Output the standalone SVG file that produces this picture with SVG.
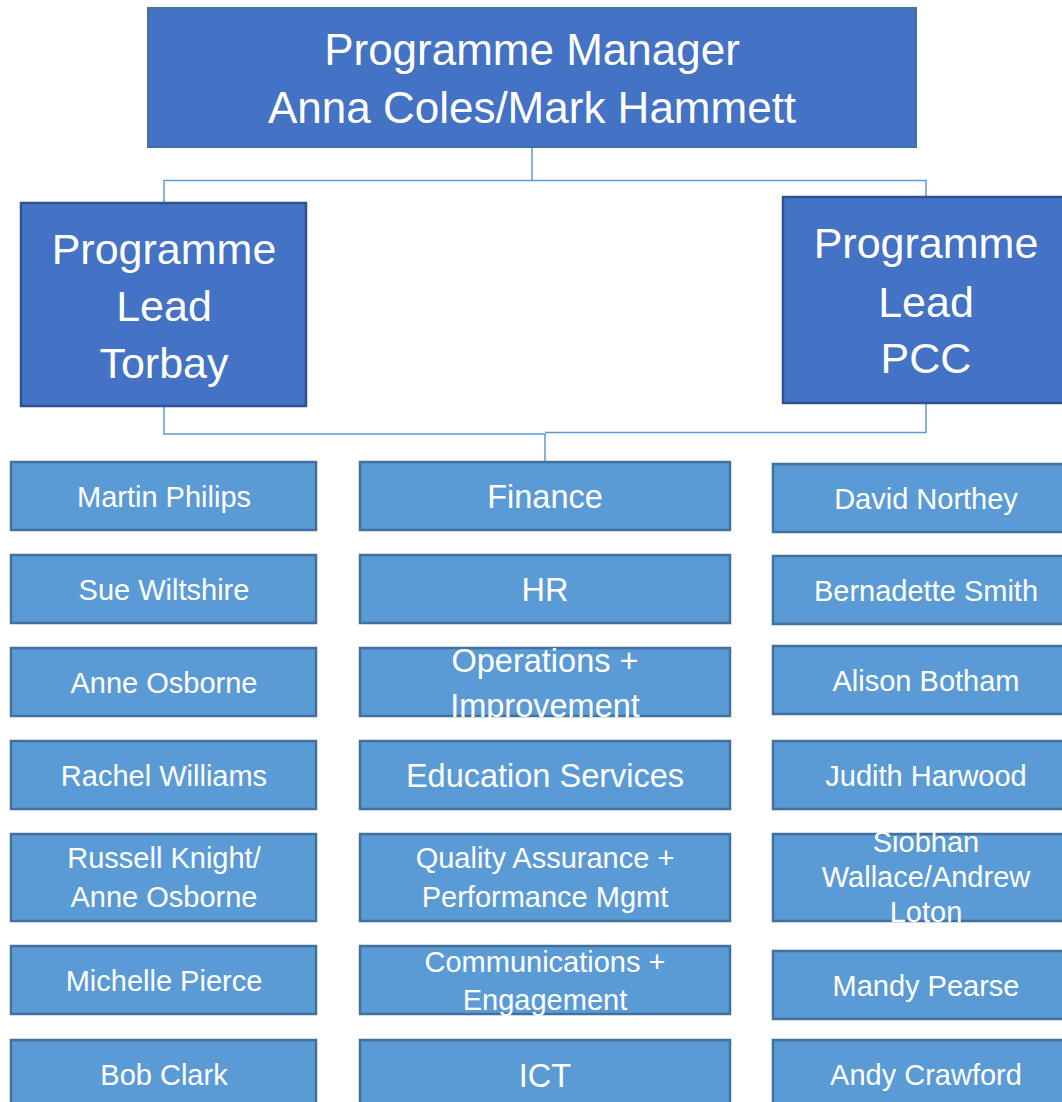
<svg xmlns="http://www.w3.org/2000/svg" width="1062" height="1102" viewBox="0 0 1062 1102">
<style>
.bg{fill:#ffffff}
.top{fill:#4472C4;stroke:#41719C;stroke-width:2}
.lead{fill:#4472C4;stroke:#2F528F;stroke-width:2.5}
.box{fill:#5B9BD5;stroke:#41719C;stroke-width:2.5}
text{font-family:"Liberation Sans",Arial,sans-serif;fill:#ffffff;text-anchor:middle}
.t44{font-size:44px}
.t42{font-size:43px}
.t32{font-size:32.5px}
.t28{font-size:29px}
.conn{fill:none;stroke:#5B9BD5;stroke-width:1.5}
</style>
<rect class="bg" x="0" y="0" width="1062" height="1102"/>
<g id="connectors">
<path class="conn" d="M532,147 V180.5 M164,203 V180.5 H926 V197"/>
<path class="conn" d="M164,406 V434 H545 V462"/>
<path class="conn" d="M926,403 V432.5 H545"/>
</g>
<g id="programme-manager">
<rect class="top" x="148" y="8" width="768" height="139"/>
<text class="t44" x="532" y="65">Programme Manager</text>
<text class="t44" x="532" y="123">Anna Coles/Mark Hammett</text>
</g>
<g id="lead-torbay">
<rect class="lead" x="21" y="203" width="285" height="203"/>
<text class="t42" x="164" y="264">Programme</text>
<text class="t42" x="164" y="321">Lead</text>
<text class="t42" x="164" y="378">Torbay</text>
</g>
<g id="lead-pcc">
<rect class="lead" x="783" y="197" width="286" height="206"/>
<text class="t42" x="926" y="258">Programme</text>
<text class="t42" x="926" y="317">Lead</text>
<text class="t42" x="926" y="373">PCC</text>
</g>
<g id="martin-philips"><rect class="box" x="11" y="462" width="305" height="68"/><text class="t28" x="164" y="507">Martin Philips</text></g>
<g id="sue-wiltshire"><rect class="box" x="11" y="555" width="305" height="68"/><text class="t28" x="164" y="600">Sue Wiltshire</text></g>
<g id="anne-osborne"><rect class="box" x="11" y="648" width="305" height="68"/><text class="t28" x="164" y="693">Anne Osborne</text></g>
<g id="rachel-williams"><rect class="box" x="11" y="741" width="305" height="68"/><text class="t28" x="164" y="786">Rachel Williams</text></g>
<g id="russell-knight"><rect class="box" x="11" y="834" width="305" height="87"/><text class="t28" x="164" y="868">Russell Knight/</text><text class="t28" x="164" y="907">Anne Osborne</text></g>
<g id="michelle-pierce"><rect class="box" x="11" y="946" width="305" height="68"/><text class="t28" x="164" y="991">Michelle Pierce</text></g>
<g id="bob-clark"><rect class="box" x="11" y="1040" width="305" height="68"/><text class="t28" x="164" y="1085">Bob Clark</text></g>
<g id="finance"><rect class="box" x="360" y="462" width="370" height="68"/><text class="t32" x="545" y="508">Finance</text></g>
<g id="hr"><rect class="box" x="360" y="555" width="370" height="68"/><text class="t32" x="545" y="601">HR</text></g>
<g id="operations"><rect class="box" x="360" y="648" width="370" height="68"/><text class="t32" x="545" y="672">Operations +</text><text class="t32" x="545" y="717">Improvement</text></g>
<g id="education"><rect class="box" x="360" y="741" width="370" height="68"/><text class="t32" x="545" y="787">Education Services</text></g>
<g id="quality"><rect class="box" x="360" y="834" width="370" height="87"/><text class="t28" x="545" y="868">Quality Assurance +</text><text class="t28" x="545" y="907">Performance Mgmt</text></g>
<g id="communications"><rect class="box" x="360" y="946" width="370" height="68"/><text class="t28" x="545" y="972">Communications +</text><text class="t28" x="545" y="1010">Engagement</text></g>
<g id="ict"><rect class="box" x="360" y="1040" width="370" height="68"/><text class="t32" x="545" y="1087">ICT</text></g>
<g id="david-northey"><rect class="box" x="773" y="464" width="296" height="68"/><text class="t28" x="926" y="509">David Northey</text></g>
<g id="bernadette-smith"><rect class="box" x="773" y="556" width="296" height="68"/><text class="t28" x="926" y="601">Bernadette Smith</text></g>
<g id="alison-botham"><rect class="box" x="773" y="646" width="296" height="68"/><text class="t28" x="926" y="691">Alison Botham</text></g>
<g id="judith-harwood"><rect class="box" x="773" y="741" width="296" height="68"/><text class="t28" x="926" y="786">Judith Harwood</text></g>
<g id="siobhan-wallace"><rect class="box" x="773" y="834" width="296" height="87"/><text class="t28" x="926" y="852">Siobhan</text><text class="t28" x="926" y="887">Wallace/Andrew</text><text class="t28" x="926" y="922">Loton</text></g>
<g id="mandy-pearse"><rect class="box" x="773" y="951" width="296" height="68"/><text class="t28" x="926" y="996">Mandy Pearse</text></g>
<g id="andy-crawford"><rect class="box" x="773" y="1040" width="296" height="68"/><text class="t28" x="926" y="1085">Andy Crawford</text></g>
</svg>
